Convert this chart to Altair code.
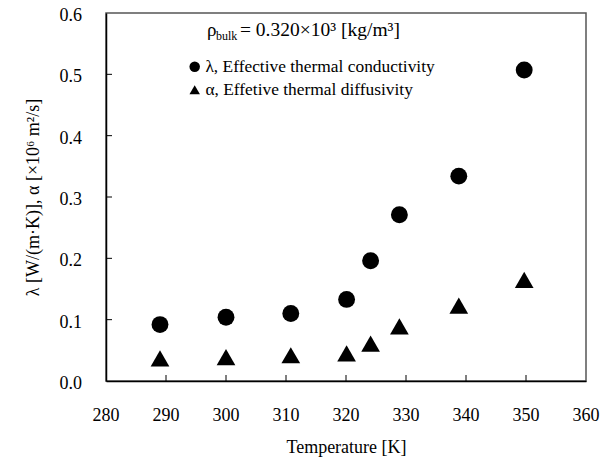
import altair as alt
import pandas as pd

# ---- data ----
temps = [289.0, 300.0, 310.8, 320.1, 324.1, 328.9, 338.8, 349.7]
lam = [0.092, 0.104, 0.110, 0.133, 0.196, 0.271, 0.334, 0.507]
alpha = [0.037, 0.039, 0.042, 0.045, 0.061, 0.089, 0.123, 0.165]
series_names = ["λ, Effective thermal conductivity", "α, Effetive thermal diffusivity"]
x_tick_values = [280, 290, 300, 310, 320, 330, 340, 350, 360]
y_tick_values = [0.0, 0.1, 0.2, 0.3, 0.4, 0.5, 0.6]
y_tick_labels = ["0.0", "0.1", "0.2", "0.3", "0.4", "0.5", "0.6"]
x_inner_ticks = [290, 300, 310, 320, 330, 340, 350]
y_inner_ticks = [0.1, 0.2, 0.3, 0.4, 0.5]

FONT = "Liberation Serif"
W, H = 480, 368

df = pd.DataFrame({
    "T": temps * 2,
    "v": lam + alpha,
    "series": [series_names[0]] * len(temps) + [series_names[1]] * len(temps),
})

xscale = alt.Scale(domain=[280, 360], nice=False)
yscale = alt.Scale(domain=[0, 0.6], nice=False)
shape_scale = alt.Scale(domain=series_names, range=["circle", "triangle-up"])
legend = alt.Legend(orient="none", legendX=80, legendY=45, title=None,
                    labelFont=FONT, labelFontSize=17.4, labelColor="black",
                    labelLimit=0, symbolSize=110, symbolFillColor="black",
                    symbolStrokeColor="black", symbolStrokeWidth=0,
                    rowPadding=4, labelOffset=2, padding=0)

xaxis = alt.Axis(values=x_tick_values, labels=False, title="Temperature [K]",
                 titlePadding=57, titleFont=FONT)
yaxis = alt.Axis(values=y_tick_values, labels=False,
                 title="λ [W/(m·K)], α [×10⁶ m²/s]", titlePadding=64, titleFont=FONT)

base = alt.Chart(df).encode(
    x=alt.X("T:Q", scale=xscale, axis=xaxis),
    y=alt.Y("v:Q", scale=yscale, axis=yaxis),
    shape=alt.Shape("series:N", scale=shape_scale, legend=legend),
)
circles = base.transform_filter(alt.datum.series == series_names[0]).mark_point(
    filled=True, opacity=1, color="black", size=285)
triangles = base.transform_filter(alt.datum.series == series_names[1]).mark_point(
    filled=True, opacity=1, color="black", size=350)

xt = alt.Chart(pd.DataFrame({"T": x_inner_ticks})).mark_rule(color="black", strokeWidth=1).encode(
    x=alt.X("T:Q", scale=xscale, axis=xaxis), y=alt.value(H), y2=alt.value(H - 6))
yt = alt.Chart(pd.DataFrame({"v": y_inner_ticks})).mark_rule(color="black", strokeWidth=1).encode(
    y=alt.Y("v:Q", scale=yscale, axis=yaxis), x=alt.value(0), x2=alt.value(6))

# tick labels drawn as text through the same scales
xl = alt.Chart(pd.DataFrame({"T": x_tick_values})).mark_text(
    font=FONT, fontSize=18, color="black", baseline="middle", align="center").encode(
    x=alt.X("T:Q", scale=xscale, axis=xaxis), y=alt.value(H + 35), text=alt.Text("T:Q"))
yl = alt.Chart(pd.DataFrame({"v": y_tick_values, "lab": y_tick_labels})).mark_text(
    font=FONT, fontSize=18, color="black", baseline="middle", align="right", dy=3).encode(
    y=alt.Y("v:Q", scale=yscale, axis=yaxis), x=alt.value(-24), text="lab:N")

one = pd.DataFrame({"a": [0]})
rho = alt.Chart(one).mark_text(text="ρ", font=FONT, fontSize=19, align="left",
                               baseline="alphabetic", color="black").encode(
    x=alt.value(101), y=alt.value(23))
bulk = alt.Chart(one).mark_text(text="bulk", font=FONT, fontSize=12, align="left",
                                baseline="alphabetic", color="black").encode(
    x=alt.value(110), y=alt.value(27))
rest = alt.Chart(one).mark_text(text="= 0.320×10³ [kg/m³]", font=FONT, fontSize=19.5,
                                align="left", baseline="alphabetic", color="black").encode(
    x=alt.value(134), y=alt.value(23))

chart = alt.layer(circles, triangles, xt, yt, xl, yl, rho, bulk, rest).properties(
    width=W, height=H,
    autosize=alt.AutoSizeParams(type="none"),
    padding={"left": 98, "top": 5, "right": 15, "bottom": 80},
).configure(font=FONT, background="white").configure_view(
    stroke="#555555", strokeWidth=1.5).configure_axis(
    ticks=False, grid=False, domainColor="black", domainWidth=1.5,
    titleFont=FONT, titleFontSize=18, titleFontWeight="normal", titleColor="black",
)

chart.save("out.html", embed_options={"renderer": "svg", "actions": False})
